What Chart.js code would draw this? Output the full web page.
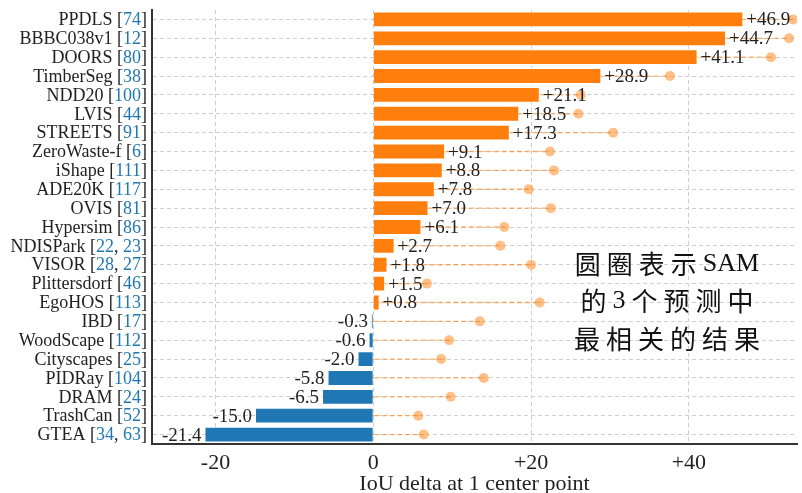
<!DOCTYPE html>
<html>
<head>
<meta charset="utf-8">
<script src="https://cdn.jsdelivr.net/npm/chart.js@4.4.1/dist/chart.umd.min.js"></script>
<style>
  html, body { margin: 0; padding: 0; background: #fff; }
  #wrap { width: 802px; height: 493px; }
</style>
</head>
<body>
<div id="wrap"><canvas id="c"></canvas></div>
<script>
// --- Data ---
const datasetNames = ['PPDLS', 'BBBC038v1', 'DOORS', 'TimberSeg', 'NDD20', 'LVIS', 'STREETS',
  'ZeroWaste-f', 'iShape', 'ADE20K', 'OVIS', 'Hypersim', 'NDISPark', 'VISOR', 'Plittersdorf',
  'EgoHOS', 'IBD', 'WoodScape', 'Cityscapes', 'PIDRay', 'DRAM', 'TrashCan', 'GTEA'];
const datasetRefs = [[74], [12], [80], [38], [100], [44], [91], [6], [111], [117], [81], [86],
  [22, 23], [28, 27], [46], [113], [17], [112], [25], [104], [24], [52], [34, 63]];
const deltas = [46.9, 44.7, 41.1, 28.9, 21.1, 18.5, 17.3, 9.1, 8.8, 7.8, 7.0, 6.1, 2.7, 1.8, 1.5,
  0.8, -0.3, -0.6, -2.0, -5.8, -6.5, -15.0, -21.4];
// circles: delta of the most relevant of SAM's 3 predictions
const samOracle = [53.2, 52.7, 50.4, 37.6, 26.3, 26.0, 30.4, 22.4, 22.9, 19.7, 22.5, 16.6, 16.1,
  20.0, 6.8, 21.1, 13.5, 9.6, 8.6, 14.0, 9.8, 5.7, 6.4];
const xTicks = [-20, 0, 20, 40];
const noteLines = ['圆圈表示SAM', '的3个预测中', '最相关的结果'];

const serif = '"Liberation Serif", "Times New Roman", serif';
const cjk = '"Noto Sans CJK SC", sans-serif';
const orange = '#ff7f0e';
const blue = '#1f77b4';
const ink = '#222';

Chart.defaults.font.family = serif;
Chart.defaults.color = ink;

const labels = datasetNames.map((n, i) => n + ' [' + datasetRefs[i].join(', ') + ']');
const fmt = v => (v > 0 ? '+' : '') + v.toFixed(1);

// dashed connectors from 0 to each circle (bars cover the inner part)
const stems = {
  id: 'stems',
  beforeDatasetsDraw(chart) {
    const { ctx, chartArea: a, scales: { x, y } } = chart;
    ctx.save();
    ctx.beginPath();
    ctx.rect(a.left, a.top, a.width, a.height);
    ctx.clip();
    ctx.strokeStyle = 'rgba(255,127,14,0.6)';
    ctx.lineWidth = 1.3;
    ctx.setLineDash([5, 3]);
    samOracle.forEach((v, i) => {
      const py = y.getPixelForTick(i);
      ctx.beginPath();
      ctx.moveTo(x.getPixelForValue(0), py);
      ctx.lineTo(x.getPixelForValue(v), py);
      ctx.stroke();
    });
    ctx.restore();
  }
};

// split a note line into CJK chars and latin runs
const noteRuns = s => {
  const runs = [];
  for (const ch of s) {
    const isCjk = ch.charCodeAt(0) > 0x2e80;
    const last = runs[runs.length - 1];
    if (!isCjk && last && !last.cjk) last.t += ch;
    else runs.push({ t: ch, cjk: isCjk });
  }
  return runs;
};

// value labels, category labels with blue refs, and the note
const texts = {
  id: 'texts',
  afterDatasetsDraw(chart) {
    const { ctx, scales: { x, y } } = chart;
    ctx.save();
    ctx.font = '19px ' + serif;
    ctx.textBaseline = 'middle';
    ctx.fillStyle = ink;
    deltas.forEach((v, i) => {
      const py = y.getPixelForTick(i);
      const px = x.getPixelForValue(v);
      ctx.textAlign = v >= 0 ? 'left' : 'right';
      ctx.fillText(fmt(v), v >= 0 ? px + 3 : px - 3, py + 1);
    });

    ctx.font = '18px ' + serif;
    ctx.textAlign = 'left';
    datasetNames.forEach((name, i) => {
      const py = y.getPixelForTick(i);
      const parts = [[name + ' [', ink]];
      datasetRefs[i].forEach((r, k) => {
        if (k) parts.push([', ', ink]);
        parts.push([String(r), blue]);
      });
      parts.push([']', ink]);
      const total = parts.reduce((s, p) => s + ctx.measureText(p[0]).width, 0);
      let px = y.right - 5 - total;
      parts.forEach(([t, c]) => {
        ctx.fillStyle = c;
        ctx.fillText(t, px, py + 1);
        px += ctx.measureText(t).width;
      });
    });

    // note: spaced CJK glyphs, latin in serif
    const gap = 6;
    const cx = chart.chartArea.right - 130;
    ctx.fillStyle = '#111';
    noteLines.forEach((line, k) => {
      const runs = noteRuns(line);
      runs.forEach(r => {
        ctx.font = r.cjk ? '26px ' + cjk : '26px ' + serif;
        r.w = ctx.measureText(r.t).width;
      });
      const total = runs.reduce((s, r) => s + r.w, 0) + gap * (runs.length - 1);
      let px = cx - total / 2;
      const py = y.getPixelForTick(13 + 2 * k) - 1;
      runs.forEach(r => {
        ctx.font = r.cjk ? '26px ' + cjk : '26px ' + serif;
        ctx.fillText(r.t, px, py);
        px += r.w + gap;
      });
    });
    ctx.restore();
  }
};

new Chart(document.getElementById('c'), {
  type: 'bar',
  data: {
    labels: labels,
    datasets: [
      {
        type: 'bar',
        indexAxis: 'y',
        data: deltas,
        backgroundColor: ctx => (ctx.raw >= 0 ? orange : blue),
        borderColor: 'rgba(255,255,255,0.7)',
        borderWidth: 1,
        barPercentage: 0.84,
        categoryPercentage: 1,
        order: 2
      },
      {
        type: 'line',
        indexAxis: 'y',
        data: samOracle,
        showLine: false,
        pointRadius: 5,
        pointBackgroundColor: 'rgba(255,127,14,0.5)',
        pointBorderWidth: 0,
        order: 1
      }
    ]
  },
  options: {
    indexAxis: 'y',
    responsive: true,
    maintainAspectRatio: false,
    animation: false,
    layout: { padding: { top: 10, right: 0, left: 0, bottom: 0 } },
    plugins: {
      legend: { display: false },
      tooltip: { enabled: false }
    },
    scales: {
      x: {
        type: 'linear',
        min: -28.05,
        max: 53.7,
        afterBuildTicks: axis => { axis.ticks = xTicks.map(v => ({ value: v })); },
        afterFit: scale => { scale.height = 49; },
        ticks: {
          font: { size: 22, lineHeight: 1.2 },
          color: ink,
          padding: 6,
          callback: v => (v > 0 ? '+' + v : String(v))
        },
        grid: { color: '#cfcfcf', drawTicks: false, lineWidth: 1 },
        border: { display: true, color: '#333', width: 2, dash: [4, 3] },
        title: {
          display: true,
          text: 'IoU delta at 1 center point',
          font: { size: 22, lineHeight: 0.8 },
          color: ink,
          padding: { top: 0, bottom: 0 }
        }
      },
      y: {
        type: 'category',
        offset: true,
        afterFit: scale => { scale.width = 152; },
        ticks: { display: false },
        grid: { color: '#cfcfcf', offset: false, drawTicks: false, lineWidth: 1 },
        border: { display: true, color: '#333', width: 2, dash: [4, 3] }
      }
    }
  },
  plugins: [stems, texts]
});
</script>
</body>
</html>
